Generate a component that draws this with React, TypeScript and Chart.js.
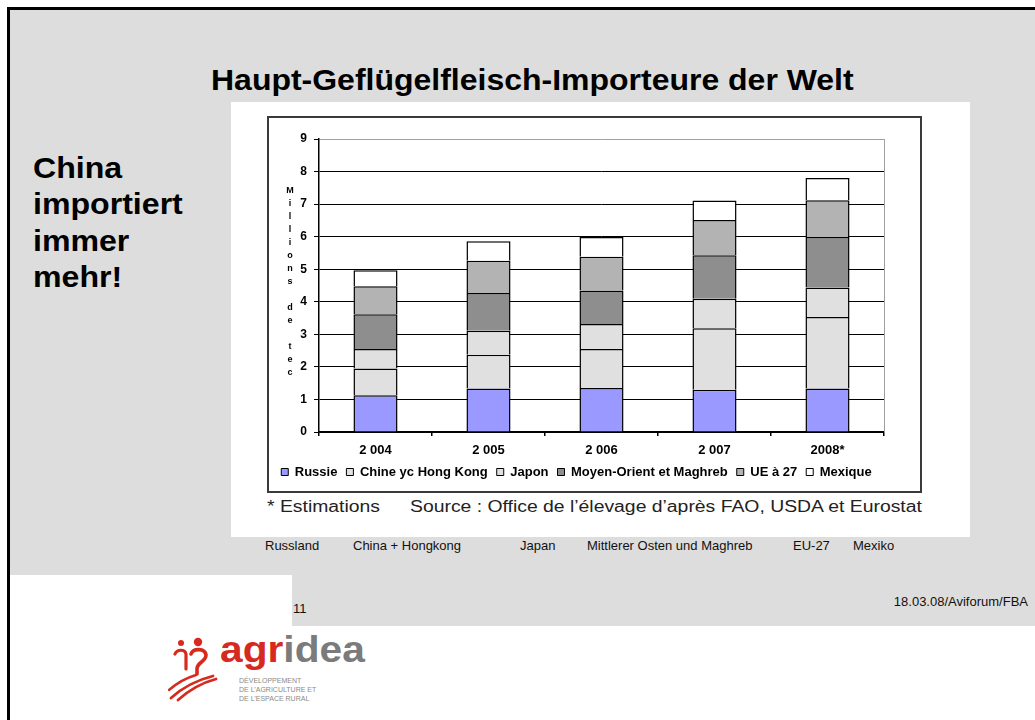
import React, { useEffect, useRef } from "react";
import { Chart, registerables } from "chart.js";

Chart.register(...registerables);

// ---- data ----
const years = ["2 004", "2 005", "2 006", "2 007", "2008*"];
const russie = [1.13, 1.34, 1.35, 1.3, 1.34];
const chine = [0.82, 1.03, 1.2, 1.89, 2.19];
const japon = [0.6, 0.74, 0.77, 0.9, 0.91];
const moyenOrient = [1.07, 1.16, 1.03, 1.34, 1.55];
const ue27 = [0.86, 0.99, 1.03, 1.08, 1.13];
const mexique = [0.49, 0.6, 0.61, 0.6, 0.68];
const seriesNames = [
  "Russie",
  "Chine yc Hong Kong",
  "Japon",
  "Moyen-Orient et Maghreb",
  "UE à 27",
  "Mexique",
];
const yMin = 0;
const yMax = 9;
const yStep = 1;
const yTitle = "Millions de tec";
const footerLabels = [
  "Russland",
  "China + Hongkong",
  "Japan",
  "Mittlerer Osten und Maghreb",
  "EU-27",
  "Mexiko",
];
const slideTitle = "Haupt-Geflügelfleisch-Importeure der Welt";
const sideLines = ["China", "importiert", "immer", "mehr!"];
const noteLeft = "* Estimations";
const noteSource = "Source : Office de l\u2019élevage d\u2019après FAO, USDA et Eurostat";
const pageNumber = "11";
const footerRight = "18.03.08/Aviforum/FBA";
const logoSub = ["DÉVELOPPEMENT", "DE L\u2019AGRICULTURE ET", "DE L\u2019ESPACE RURAL"];

// ---- layout / style (not data) ----
const FONT = "'Liberation Sans', Arial, Helvetica, sans-serif";
const seriesColors = ["#9999ff", "#e0e0e0", "#e0e0e0", "#8e8e8e", "#b3b3b3", "#ffffff"];
const FOOTER_X = [265, 353, 520, 587, 793, 853];

const yTitlePlugin = {
  id: "yTitleStacked",
  afterDraw(chart: any) {
    const ctx = chart.ctx;
    ctx.save();
    ctx.font = `bold 9px ${FONT}`;
    ctx.fillStyle = "#000";
    ctx.textAlign = "center";
    ctx.textBaseline = "middle";
    const letters = yTitle.split("");
    const step = 13;
    const mid = (chart.chartArea.top + chart.chartArea.bottom) / 2 - 4;
    const start = mid - ((letters.length - 1) * step) / 2;
    letters.forEach((ch: string, i: number) => {
      if (ch !== " ") ctx.fillText(ch, 21, start + i * step);
    });
    ctx.restore();
  },
};

const plotBorderPlugin = {
  id: "plotBorder",
  afterDatasetsDraw(chart: any) {
    const { ctx, chartArea } = chart;
    ctx.save();
    ctx.strokeStyle = "#a0a0a0";
    ctx.lineWidth = 1;
    const x = Math.round(chartArea.right) + 0.5;
    ctx.beginPath();
    ctx.moveTo(x, chartArea.top);
    ctx.lineTo(x, chartArea.bottom);
    ctx.stroke();
    ctx.restore();
  },
};

function ChartCanvas() {
  const ref = useRef<HTMLCanvasElement | null>(null);
  useEffect(() => {
    if (!ref.current) return;
    const values = [russie, chine, japon, moyenOrient, ue27, mexique];
    const chart = new Chart(ref.current, {
      type: "bar",
      data: {
        labels: years,
        datasets: values.map((v, i) => ({
          label: seriesNames[i],
          data: v,
          backgroundColor: seriesColors[i],
          borderColor: "#000",
          borderWidth: 1.5,
          categoryPercentage: 1,
          barPercentage: 0.39,
        })),
      },
      options: {
        animation: false,
        responsive: false,
        devicePixelRatio: 1,
        layout: { padding: { left: 0, right: 36, top: 21, bottom: 2.5 } },
        plugins: {
          tooltip: { enabled: false },
          legend: {
            position: "bottom",
            labels: {
              boxWidth: 7,
              boxHeight: 7,
              padding: 9,
              color: "#000",
              font: { family: FONT, size: 13, weight: "bold" },
              generateLabels: (c: any) =>
                (Chart.defaults.plugins.legend.labels as any)
                  .generateLabels(c)
                  .map((l: any) => ({ ...l, lineWidth: 1 })),
            },
          },
        },
        scales: {
          x: {
            stacked: true,
            grid: {
              display: true,
              drawOnChartArea: false,
              drawTicks: true,
              tickLength: 4,
              offset: true,
              color: "#000",
              lineWidth: 1.5,
            },
            border: { color: "#000", width: 1.5 },
            ticks: {
              padding: 7,
              color: "#000",
              font: { family: FONT, size: 13, weight: "bold" },
            },
            afterFit: (s: any) => {
              s.height = 24.5;
            },
          },
          y: {
            stacked: true,
            min: yMin,
            max: yMax,
            ticks: {
              stepSize: yStep,
              padding: 7,
              color: "#000",
              font: { family: FONT, size: 12, weight: "bold" },
            },
            grid: {
              color: (c: any) => (c.tick && c.tick.value === yMax ? "#a0a0a0" : "#000"),
              tickColor: "#000",
              lineWidth: 1,
              tickLength: 5,
            },
            border: { color: "#000", width: 1.5 },
            afterFit: (s: any) => {
              s.width = 50;
            },
          },
        },
      },
      plugins: [yTitlePlugin, plotBorderPlugin],
    } as any);
    return () => chart.destroy();
  }, []);
  return <canvas ref={ref} width={651} height={373} style={{ display: "block", width: 651, height: 373 }} />;
}

function Logo() {
  const red = "#d62a1e";
  return (
    <>
      <svg
        width={50}
        height={66}
        viewBox="0 0 50 66"
        style={{ position: "absolute", left: 168, top: 636 }}
      >
        <circle cx={13} cy={7} r={3} fill={red} />
        <circle cx={30} cy={6} r={4.2} fill={red} />
        <path d="M7 18 C 9 13, 17 13, 18 18 L 18 33" stroke={red} strokeWidth={3.2} fill="none" strokeLinecap="round" />
        <path d="M23 18 C 25 12, 37 12, 38 19 C 38 26, 29 26, 29 33 L 29 38" stroke={red} strokeWidth={3.6} fill="none" strokeLinecap="round" />
        <path d="M3 62 C 14 52, 29 44, 45 40" stroke={red} strokeWidth={2.8} fill="none" strokeLinecap="round" />
        <path d="M10 64 C 20 55, 33 47, 48 43" stroke={red} strokeWidth={2.8} fill="none" strokeLinecap="round" />
        <path d="M1 54 C 10 46, 18 42, 28 39" stroke={red} strokeWidth={2.4} fill="none" strokeLinecap="round" />
      </svg>
      <div
        style={{
          position: "absolute",
          left: 220,
          top: 631,
          fontSize: 37,
          lineHeight: "37px",
          fontWeight: "bold",
          fontFamily: FONT,
          transform: "scaleX(1.1)",
          transformOrigin: "left top",
          whiteSpace: "nowrap",
        }}
      >
        <span style={{ color: red }}>agr</span>
        <span style={{ color: "#7b7b7b" }}>idea</span>
      </div>
      <div
        style={{
          position: "absolute",
          left: 239,
          top: 676,
          fontSize: 7,
          lineHeight: "9px",
          color: "#8a8a8a",
          fontFamily: FONT,
          whiteSpace: "nowrap",
        }}
      >
        {logoSub.map((s, i) => (
          <div key={i}>{s}</div>
        ))}
      </div>
    </>
  );
}

export default function App() {
  const abs = (o: any) => ({ position: "absolute" as const, whiteSpace: "nowrap" as const, fontFamily: FONT, ...o });
  return (
    <div style={{ position: "absolute", left: 0, top: 0, width: 1035, height: 720, background: "#fff", overflow: "hidden", fontFamily: FONT }}>
      {/* slide background */}
      <div style={abs({ left: 10, top: 10, width: 1025, height: 616, background: "#dddddd" })} />
      <div style={abs({ left: 10, top: 575, width: 282, height: 51, background: "#fff" })} />
      <div style={abs({ left: 7, top: 7, width: 3, height: 713, background: "#000" })} />
      <div style={abs({ left: 7, top: 7, width: 1028, height: 3, background: "#000" })} />

      {/* title */}
      <div
        style={abs({
          left: 211,
          top: 62,
          fontSize: 30,
          lineHeight: "36px",
          fontWeight: "bold",
          color: "#000",
          transform: "scaleX(1.066)",
          transformOrigin: "left top",
        })}
      >
        {slideTitle}
      </div>

      {/* side text */}
      <div
        style={abs({
          left: 33,
          top: 150,
          fontSize: 30,
          lineHeight: "36.3px",
          fontWeight: "bold",
          color: "#000",
          transform: "scaleX(1.07)",
          transformOrigin: "left top",
        })}
      >
        {sideLines.map((l, i) => (
          <div key={i}>{l}</div>
        ))}
      </div>

      {/* chart picture */}
      <div style={abs({ left: 231, top: 102, width: 739, height: 435, background: "#fff" })} />
      <div
        style={abs({
          left: 267,
          top: 116,
          width: 655,
          height: 377,
          boxSizing: "border-box",
          border: "2px solid #3a3a3a",
          background: "#fff",
        })}
      >
        <ChartCanvas />
      </div>
      <div style={abs({ left: 267, top: 498, fontSize: 16, lineHeight: "18px", color: "#222", transform: "scaleX(1.21)", transformOrigin: "left top" })}>
        {noteLeft}
      </div>
      <div style={abs({ left: 410, top: 498, fontSize: 16, lineHeight: "18px", color: "#222", transform: "scaleX(1.21)", transformOrigin: "left top" })}>
        {noteSource}
      </div>

      {/* footer labels */}
      {footerLabels.map((l, i) => (
        <div key={i} style={abs({ left: FOOTER_X[i], top: 538, fontSize: 13, lineHeight: "16px", color: "#111" })}>
          {l}
        </div>
      ))}

      <div style={abs({ left: 293, top: 601, fontSize: 13, lineHeight: "16px", color: "#111" })}>{pageNumber}</div>
      <div style={abs({ right: 7, top: 594, fontSize: 13, lineHeight: "16px", color: "#111" })}>{footerRight}</div>

      <Logo />
    </div>
  );
}
